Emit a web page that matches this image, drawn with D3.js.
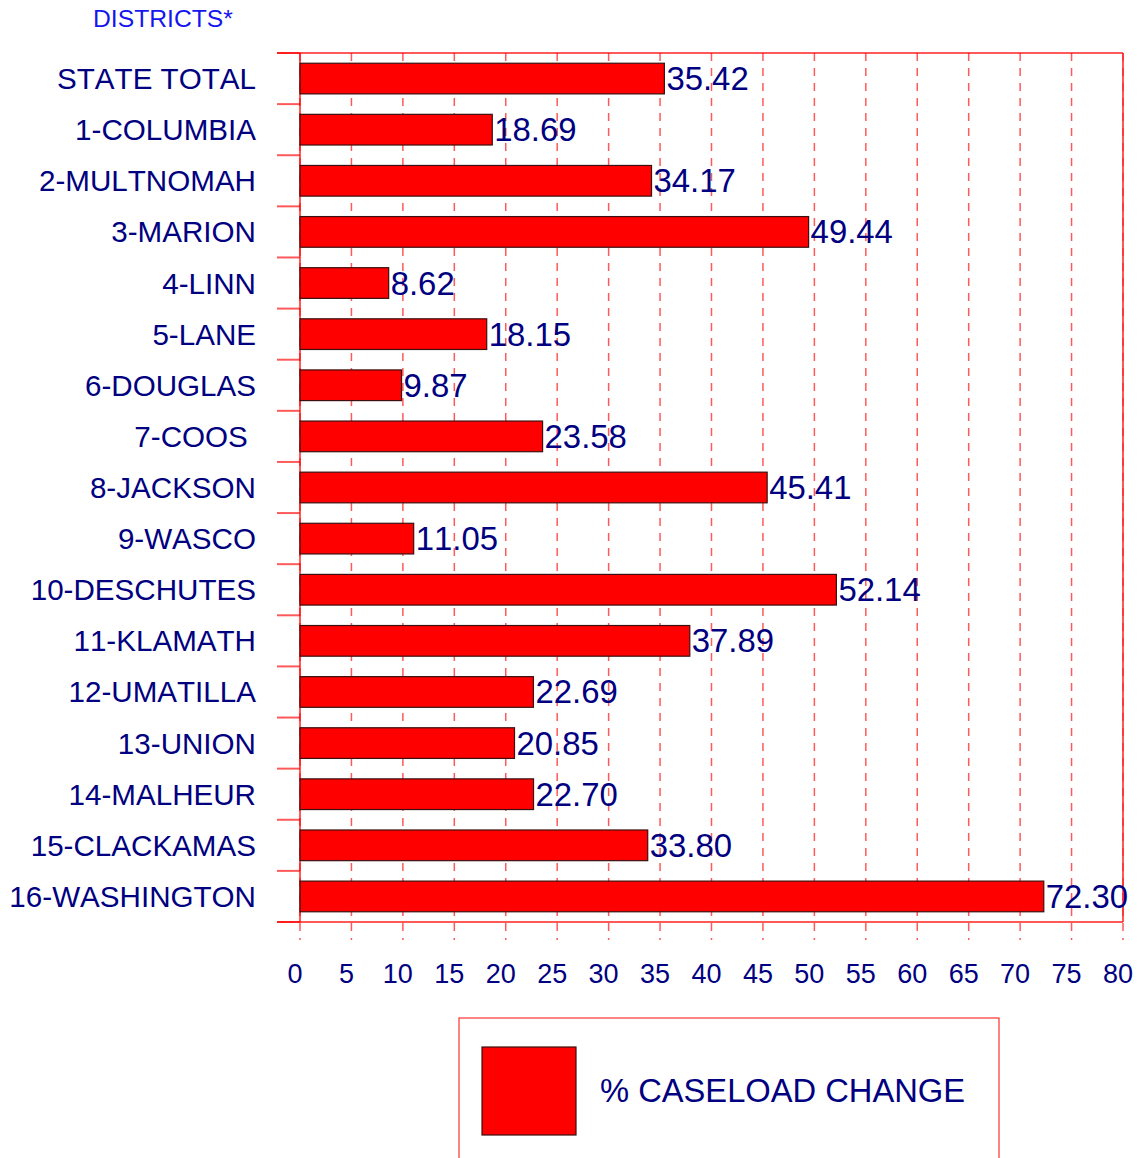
<!DOCTYPE html>
<html><head><meta charset="utf-8">
<script src="https://cdn.jsdelivr.net/npm/d3@7"></script>
<style>body{margin:0;background:#fff;}svg{display:block;font-family:"Liberation Sans",Arial,sans-serif;}svg text{font-kerning:none;}</style>
</head><body>
<script>
const categories = ["STATE TOTAL","1-COLUMBIA","2-MULTNOMAH","3-MARION","4-LINN","5-LANE","6-DOUGLAS","7-COOS ","8-JACKSON","9-WASCO","10-DESCHUTES","11-KLAMATH","12-UMATILLA","13-UNION","14-MALHEUR","15-CLACKAMAS","16-WASHINGTON"];
const values = [35.42,18.69,34.17,49.44,8.62,18.15,9.87,23.58,45.41,11.05,52.14,37.89,22.69,20.85,22.70,33.80,72.30];
const xTicks = [0,5,10,15,20,25,30,35,40,45,50,55,60,65,70,75,80];
const seriesName = "% CASELOAD CHANGE";
const axisTitle = "DISTRICTS*";

const W = 1137, H = 1158;
const svg = d3.select("body").append("svg").attr("width", W).attr("height", H);
const x = d3.scaleLinear().domain([0, 80]).range([300, 1123]);
const y = d3.scaleBand().domain(categories).range([53, 922]).paddingInner(0.4).paddingOuter(0.2);
const navy = "#000080", grid = "rgba(255,0,0,0.65)";

// gridlines
svg.append("g").selectAll("line").data(xTicks).join("line")
  .attr("x1", d => x(d)).attr("x2", d => x(d))
  .attr("y1", 53).attr("y2", 940)
  .attr("stroke", grid).attr("stroke-width", 1.5).attr("stroke-dasharray", "8,7");
// borders
svg.append("line").attr("x1", 277).attr("x2", x(80)).attr("y1", 53).attr("y2", 53).attr("stroke", grid).attr("stroke-width", 2);
svg.append("line").attr("x1", 277).attr("x2", x(80)).attr("y1", 922).attr("y2", 922).attr("stroke", grid).attr("stroke-width", 2);
svg.append("line").attr("x1", x(0)).attr("x2", x(0)).attr("y1", 53).attr("y2", 922).attr("stroke", grid).attr("stroke-width", 2);
svg.append("line").attr("x1", x(80)).attr("x2", x(80)).attr("y1", 53).attr("y2", 922).attr("stroke", "#ff2020").attr("stroke-width", 1.5);
// category separators
const step = y.step();
svg.append("g").selectAll("line").data(d3.range(categories.length + 1)).join("line")
  .attr("x1", 277).attr("x2", 300)
  .attr("y1", i => 53 + i * step).attr("y2", i => 53 + i * step)
  .attr("stroke", grid).attr("stroke-width", 2);

// bars
svg.append("g").selectAll("rect").data(values).join("rect")
  .attr("x", x(0)).attr("y", (d, i) => y(categories[i]))
  .attr("width", d => x(d) - x(0)).attr("height", y.bandwidth())
  .attr("fill", "#ff0000").attr("stroke", "#3a1010").attr("stroke-width", 1.2);

// value labels
svg.append("g").selectAll("text").data(values).join("text")
  .attr("x", d => x(d) + 2).attr("y", (d, i) => y(categories[i]) + y.bandwidth() / 2 + 11.5)
  .attr("fill", navy).attr("font-size", 32.9).text(d => d.toFixed(2));

// category labels
svg.append("g").selectAll("text").data(categories).join("text")
  .attr("x", 256).attr("y", d => y(d) + y.bandwidth() / 2 + 10.5)
  .attr("text-anchor", "end").attr("fill", navy).attr("font-size", 29.6)
  .style("white-space", "pre").text(d => d);

// x tick labels
svg.append("g").selectAll("text").data(xTicks).join("text")
  .attr("x", d => x(d) - 5).attr("y", 983)
  .attr("text-anchor", "middle").attr("fill", navy).attr("font-size", 27).text(d => d);

// axis title
svg.append("text").attr("x", 93).attr("y", 27).attr("fill", "#1515f0").attr("font-size", 24.7).text(axisTitle);

// legend
svg.append("rect").attr("x", 459).attr("y", 1018).attr("width", 540).attr("height", 160)
  .attr("fill", "none").attr("stroke", "#ff3030").attr("stroke-width", 1.2);
svg.append("rect").attr("x", 482).attr("y", 1047).attr("width", 94).attr("height", 88)
  .attr("fill", "#ff0000").attr("stroke", "#3a1010").attr("stroke-width", 1.2);
svg.append("text").attr("x", 600).attr("y", 1102).attr("fill", navy).attr("font-size", 32.7).text(seriesName);
</script>
</body></html>
